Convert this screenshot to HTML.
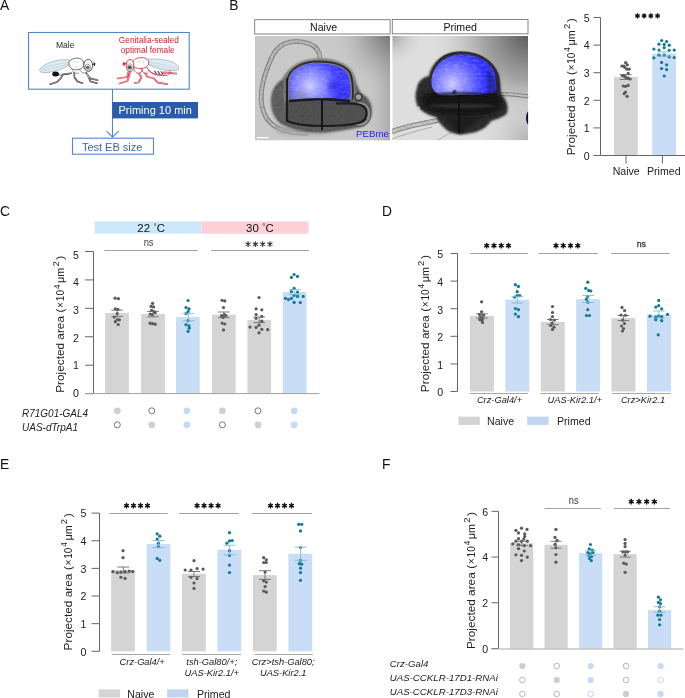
<!DOCTYPE html><html><head><meta charset="utf-8"><style>html,body{margin:0;padding:0;background:#fff;overflow:hidden;}svg{display:block;font-family:'Liberation Sans', sans-serif;will-change:transform;}</style></head><body>
<svg width="685" height="698" viewBox="0 0 685 698">
<rect width="685" height="698" fill="#fff"/>
<text x="-0.1" y="9.6" font-size="13.8" text-anchor="start" fill="#111" >A</text>
<text x="229.2" y="9.8" font-size="13.8" text-anchor="start" fill="#111" >B</text>
<text x="-0.1" y="216.0" font-size="13.8" text-anchor="start" fill="#111" >C</text>
<text x="382.0" y="215.9" font-size="13.8" text-anchor="start" fill="#111" >D</text>
<text x="-0.1" y="468.7" font-size="13.8" text-anchor="start" fill="#111" >E</text>
<text x="382.0" y="468.7" font-size="13.8" text-anchor="start" fill="#111" >F</text>
<rect x="614.0" y="76.9" width="23.8" height="78.6" fill="#d4d4d4"/>
<rect x="652.2" y="53.6" width="23.8" height="101.9" fill="#c9ddf6"/>
<line x1="600.5" y1="17.5" x2="600.5" y2="155.5" stroke="#666" stroke-width="1"/>
<line x1="593.5" y1="155.5" x2="600.5" y2="155.5" stroke="#666" stroke-width="1"/>
<text x="589.6" y="159.8" font-size="10.6" text-anchor="end" fill="#222" >0</text>
<line x1="593.5" y1="127.9" x2="600.5" y2="127.9" stroke="#666" stroke-width="1"/>
<text x="589.6" y="132.20000000000002" font-size="10.6" text-anchor="end" fill="#222" >1</text>
<line x1="593.5" y1="100.3" x2="600.5" y2="100.3" stroke="#666" stroke-width="1"/>
<text x="589.6" y="104.6" font-size="10.6" text-anchor="end" fill="#222" >2</text>
<line x1="593.5" y1="72.69999999999999" x2="600.5" y2="72.69999999999999" stroke="#666" stroke-width="1"/>
<text x="589.6" y="76.99999999999999" font-size="10.6" text-anchor="end" fill="#222" >3</text>
<line x1="593.5" y1="45.099999999999994" x2="600.5" y2="45.099999999999994" stroke="#666" stroke-width="1"/>
<text x="589.6" y="49.39999999999999" font-size="10.6" text-anchor="end" fill="#222" >4</text>
<line x1="593.5" y1="17.5" x2="600.5" y2="17.5" stroke="#666" stroke-width="1"/>
<text x="589.6" y="21.8" font-size="10.6" text-anchor="end" fill="#222" >5</text>
<line x1="600.5" y1="155.5" x2="685" y2="155.5" stroke="#666" stroke-width="1"/>
<line x1="626" y1="155.5" x2="626" y2="163.5" stroke="#666" stroke-width="1"/>
<line x1="662.4" y1="155.5" x2="662.4" y2="163.5" stroke="#666" stroke-width="1"/>
<text x="626.2" y="174.5" font-size="10.6" text-anchor="middle" fill="#222" >Naive</text>
<text x="663.8" y="174.5" font-size="10.6" text-anchor="middle" fill="#222" >Primed</text>
<path d="M637.45,13.30L637.45,18.50M635.20,14.60L639.70,17.20M635.20,17.20L639.70,14.60" stroke="#111" stroke-width="1.3" fill="none"/>
<circle cx="637.45" cy="15.9" r="1.3" fill="#111" stroke="none" stroke-width="0"/>
<path d="M644.15,13.30L644.15,18.50M641.90,14.60L646.40,17.20M641.90,17.20L646.40,14.60" stroke="#111" stroke-width="1.3" fill="none"/>
<circle cx="644.1500000000001" cy="15.9" r="1.3" fill="#111" stroke="none" stroke-width="0"/>
<path d="M650.85,13.30L650.85,18.50M648.60,14.60L653.10,17.20M648.60,17.20L653.10,14.60" stroke="#111" stroke-width="1.3" fill="none"/>
<circle cx="650.85" cy="15.9" r="1.3" fill="#111" stroke="none" stroke-width="0"/>
<path d="M657.55,13.30L657.55,18.50M655.30,14.60L659.80,17.20M655.30,17.20L659.80,14.60" stroke="#111" stroke-width="1.3" fill="none"/>
<circle cx="657.5500000000001" cy="15.9" r="1.3" fill="#111" stroke="none" stroke-width="0"/>
<text transform="translate(574.5,86.8) rotate(-90)" x="0" y="0" font-size="11.8" text-anchor="middle" fill="#222">Projected area <tspan dx="0.3">(</tspan><tspan dx="0.6" font-size="10.1">×</tspan><tspan dx="0.8" font-size="10.1">10</tspan><tspan font-size="8.2" dy="-4.7" dx="0.9">4</tspan><tspan dy="4.7" dx="1.6" font-size="10.8">μm</tspan><tspan font-size="9.4" dy="-4.9" dx="1.2">2</tspan><tspan dy="4.9" dx="1.6">)</tspan></text>
<circle cx="625.7" cy="62.7" r="1.62" fill="#5a5a5a" stroke="none" stroke-width="0"/>
<circle cx="627.3" cy="64.8" r="1.62" fill="#5a5a5a" stroke="none" stroke-width="0"/>
<circle cx="621.9" cy="66" r="1.62" fill="#5a5a5a" stroke="none" stroke-width="0"/>
<circle cx="623.9" cy="66.1" r="1.62" fill="#5a5a5a" stroke="none" stroke-width="0"/>
<circle cx="624.8" cy="67.3" r="1.62" fill="#5a5a5a" stroke="none" stroke-width="0"/>
<circle cx="626.9" cy="69.2" r="1.62" fill="#5a5a5a" stroke="none" stroke-width="0"/>
<circle cx="629.3" cy="69.1" r="1.62" fill="#5a5a5a" stroke="none" stroke-width="0"/>
<circle cx="628.2" cy="73.4" r="1.62" fill="#5a5a5a" stroke="none" stroke-width="0"/>
<circle cx="622.3" cy="75.6" r="1.62" fill="#5a5a5a" stroke="none" stroke-width="0"/>
<circle cx="623.9" cy="75.6" r="1.62" fill="#5a5a5a" stroke="none" stroke-width="0"/>
<circle cx="624.8" cy="76.6" r="1.62" fill="#5a5a5a" stroke="none" stroke-width="0"/>
<circle cx="626.1" cy="77.6" r="1.62" fill="#5a5a5a" stroke="none" stroke-width="0"/>
<circle cx="628.1" cy="78.2" r="1.62" fill="#5a5a5a" stroke="none" stroke-width="0"/>
<circle cx="630" cy="79" r="1.62" fill="#5a5a5a" stroke="none" stroke-width="0"/>
<circle cx="623.2" cy="86" r="1.62" fill="#5a5a5a" stroke="none" stroke-width="0"/>
<circle cx="625.5" cy="86.3" r="1.62" fill="#5a5a5a" stroke="none" stroke-width="0"/>
<circle cx="628.1" cy="85.4" r="1.62" fill="#5a5a5a" stroke="none" stroke-width="0"/>
<circle cx="625.5" cy="92.1" r="1.62" fill="#5a5a5a" stroke="none" stroke-width="0"/>
<circle cx="624.2" cy="93.7" r="1.62" fill="#5a5a5a" stroke="none" stroke-width="0"/>
<circle cx="627.1" cy="96.3" r="1.62" fill="#5a5a5a" stroke="none" stroke-width="0"/>
<line x1="619.6" y1="74.7" x2="631.6" y2="74.7" stroke="#666" stroke-width="0.85"/>
<line x1="619.6" y1="79.4" x2="631.6" y2="79.4" stroke="#666" stroke-width="0.85"/>
<line x1="625.6" y1="74.7" x2="625.6" y2="79.4" stroke="#666" stroke-width="0.85"/>
<circle cx="661.7" cy="40.5" r="1.62" fill="#107a99" stroke="none" stroke-width="0"/>
<circle cx="666.6" cy="41.5" r="1.62" fill="#107a99" stroke="none" stroke-width="0"/>
<circle cx="659" cy="44.2" r="1.62" fill="#107a99" stroke="none" stroke-width="0"/>
<circle cx="664.2" cy="44.4" r="1.62" fill="#107a99" stroke="none" stroke-width="0"/>
<circle cx="669.2" cy="45.2" r="1.62" fill="#107a99" stroke="none" stroke-width="0"/>
<circle cx="664.2" cy="47.7" r="1.62" fill="#107a99" stroke="none" stroke-width="0"/>
<circle cx="653.9" cy="49.1" r="1.62" fill="#107a99" stroke="none" stroke-width="0"/>
<circle cx="659" cy="50.1" r="1.62" fill="#107a99" stroke="none" stroke-width="0"/>
<circle cx="669.2" cy="50.3" r="1.62" fill="#107a99" stroke="none" stroke-width="0"/>
<circle cx="674.2" cy="50.1" r="1.62" fill="#107a99" stroke="none" stroke-width="0"/>
<circle cx="659" cy="55.2" r="1.62" fill="#107a99" stroke="none" stroke-width="0"/>
<circle cx="664.2" cy="55.2" r="1.62" fill="#107a99" stroke="none" stroke-width="0"/>
<circle cx="669.2" cy="56.9" r="1.62" fill="#107a99" stroke="none" stroke-width="0"/>
<circle cx="653.9" cy="57.8" r="1.62" fill="#107a99" stroke="none" stroke-width="0"/>
<circle cx="674.2" cy="57.6" r="1.62" fill="#107a99" stroke="none" stroke-width="0"/>
<circle cx="661.6" cy="62.4" r="1.62" fill="#107a99" stroke="none" stroke-width="0"/>
<circle cx="666.6" cy="64.8" r="1.62" fill="#107a99" stroke="none" stroke-width="0"/>
<circle cx="661.6" cy="68.5" r="1.62" fill="#107a99" stroke="none" stroke-width="0"/>
<circle cx="666.6" cy="69.6" r="1.62" fill="#107a99" stroke="none" stroke-width="0"/>
<circle cx="664.2" cy="76" r="1.62" fill="#107a99" stroke="none" stroke-width="0"/>
<line x1="658.0" y1="51.9" x2="670.0" y2="51.9" stroke="#7cb8cc" stroke-width="0.85"/>
<line x1="658.0" y1="56.3" x2="670.0" y2="56.3" stroke="#7cb8cc" stroke-width="0.85"/>
<line x1="664.0" y1="51.9" x2="664.0" y2="56.3" stroke="#7cb8cc" stroke-width="0.85"/>
<rect x="94.7" y="221.4" width="106.7" height="12.3" fill="#cce8fb"/>
<rect x="201.4" y="221.4" width="107.1" height="12.3" fill="#fdd0d6"/>
<text x="151.2" y="231.9" font-size="11.4" text-anchor="middle" fill="#111" >22 <tspan font-size='8' dy='-3.4' dx='0.4'>°</tspan><tspan dy='3.4'>C</tspan></text>
<text x="259.9" y="231.9" font-size="11.4" text-anchor="middle" fill="#111" >30 <tspan font-size='8' dy='-3.4' dx='0.4'>°</tspan><tspan dy='3.4'>C</tspan></text>
<line x1="104.4" y1="250.5" x2="197.7" y2="250.5" stroke="#a0a0a0" stroke-width="1"/>
<line x1="211.1" y1="250.5" x2="308.9" y2="250.5" stroke="#a0a0a0" stroke-width="1"/>
<text x="0" y="0" font-size="9.4" text-anchor="middle" fill="#444" transform="translate(148.6,245.7) scale(1,1.18)">ns</text>
<path d="M248.05,241.35L248.05,247.05M245.58,242.77L250.52,245.62M245.58,245.62L250.52,242.77" stroke="#333" stroke-width="1.05" fill="none"/>
<circle cx="248.05" cy="244.2" r="1.05" fill="#333" stroke="none" stroke-width="0"/>
<path d="M255.35,241.35L255.35,247.05M252.88,242.77L257.82,245.62M252.88,245.62L257.82,242.77" stroke="#333" stroke-width="1.05" fill="none"/>
<circle cx="255.35000000000002" cy="244.2" r="1.05" fill="#333" stroke="none" stroke-width="0"/>
<path d="M262.65,241.35L262.65,247.05M260.18,242.77L265.12,245.62M260.18,245.62L265.12,242.77" stroke="#333" stroke-width="1.05" fill="none"/>
<circle cx="262.65000000000003" cy="244.2" r="1.05" fill="#333" stroke="none" stroke-width="0"/>
<path d="M269.95,241.35L269.95,247.05M267.48,242.77L272.42,245.62M267.48,245.62L272.42,242.77" stroke="#333" stroke-width="1.05" fill="none"/>
<circle cx="269.95" cy="244.2" r="1.05" fill="#333" stroke="none" stroke-width="0"/>
<rect x="105.2" y="312.9" width="23.7" height="80.70000000000005" fill="#d4d4d4"/>
<rect x="141.2" y="314.0" width="23.7" height="79.60000000000002" fill="#d4d4d4"/>
<rect x="176.0" y="317.1" width="23.7" height="76.5" fill="#c9ddf6"/>
<rect x="212.0" y="314.7" width="23.7" height="78.90000000000003" fill="#d4d4d4"/>
<rect x="247.4" y="319.9" width="23.7" height="73.70000000000005" fill="#d4d4d4"/>
<rect x="282.8" y="292.0" width="23.7" height="101.60000000000002" fill="#c9ddf6"/>
<line x1="93.5" y1="251.5" x2="93.5" y2="393.6" stroke="#666" stroke-width="1"/>
<line x1="85.0" y1="393.6" x2="93.5" y2="393.6" stroke="#666" stroke-width="1"/>
<text x="78.9" y="397.90000000000003" font-size="10.6" text-anchor="end" fill="#222" ></text>
<line x1="85.0" y1="365.18" x2="93.5" y2="365.18" stroke="#666" stroke-width="1"/>
<text x="78.9" y="369.48" font-size="10.6" text-anchor="end" fill="#222" ></text>
<line x1="85.0" y1="336.76" x2="93.5" y2="336.76" stroke="#666" stroke-width="1"/>
<text x="78.9" y="341.06" font-size="10.6" text-anchor="end" fill="#222" ></text>
<line x1="85.0" y1="308.34000000000003" x2="93.5" y2="308.34000000000003" stroke="#666" stroke-width="1"/>
<text x="78.9" y="312.64000000000004" font-size="10.6" text-anchor="end" fill="#222" ></text>
<line x1="85.0" y1="279.92" x2="93.5" y2="279.92" stroke="#666" stroke-width="1"/>
<text x="78.9" y="284.22" font-size="10.6" text-anchor="end" fill="#222" ></text>
<line x1="85.0" y1="251.5" x2="93.5" y2="251.5" stroke="#666" stroke-width="1"/>
<text x="78.9" y="255.8" font-size="10.6" text-anchor="end" fill="#222" ></text>
<text x="78.9" y="397.0" font-size="10.6" text-anchor="end" fill="#222" >0</text>
<text x="78.9" y="369.3" font-size="10.6" text-anchor="end" fill="#222" >1</text>
<text x="78.9" y="341.6" font-size="10.6" text-anchor="end" fill="#222" >2</text>
<text x="78.9" y="313.90000000000003" font-size="10.6" text-anchor="end" fill="#222" >3</text>
<text x="78.9" y="286.2" font-size="10.6" text-anchor="end" fill="#222" >4</text>
<text x="78.9" y="258.5" font-size="10.6" text-anchor="end" fill="#222" >5</text>
<line x1="85.0" y1="393.6" x2="319.3" y2="393.6" stroke="#a0a0a0" stroke-width="1"/>
<text transform="translate(64.2,324.25) rotate(-90)" x="0" y="0" font-size="11.8" text-anchor="middle" fill="#222">Projected area <tspan dx="0.3">(</tspan><tspan dx="0.6" font-size="10.1">×</tspan><tspan dx="0.8" font-size="10.1">10</tspan><tspan font-size="8.2" dy="-4.7" dx="0.9">4</tspan><tspan dy="4.7" dx="1.6" font-size="10.8">μm</tspan><tspan font-size="9.4" dy="-4.9" dx="1.2">2</tspan><tspan dy="4.9" dx="1.6">)</tspan></text>
<circle cx="115.1" cy="298.2" r="1.62" fill="#5a5a5a" stroke="none" stroke-width="0"/>
<circle cx="118.4" cy="298.7" r="1.62" fill="#5a5a5a" stroke="none" stroke-width="0"/>
<circle cx="115.3" cy="308.9" r="1.62" fill="#5a5a5a" stroke="none" stroke-width="0"/>
<circle cx="117.9" cy="309.4" r="1.62" fill="#5a5a5a" stroke="none" stroke-width="0"/>
<circle cx="117.2" cy="313.5" r="1.62" fill="#5a5a5a" stroke="none" stroke-width="0"/>
<circle cx="114.3" cy="317.1" r="1.62" fill="#5a5a5a" stroke="none" stroke-width="0"/>
<circle cx="117.4" cy="319.6" r="1.62" fill="#5a5a5a" stroke="none" stroke-width="0"/>
<circle cx="119.4" cy="319.8" r="1.62" fill="#5a5a5a" stroke="none" stroke-width="0"/>
<circle cx="115.3" cy="321.7" r="1.62" fill="#5a5a5a" stroke="none" stroke-width="0"/>
<circle cx="118.2" cy="324.5" r="1.62" fill="#5a5a5a" stroke="none" stroke-width="0"/>
<circle cx="152.6" cy="303.3" r="1.62" fill="#5a5a5a" stroke="none" stroke-width="0"/>
<circle cx="151.1" cy="306.3" r="1.62" fill="#5a5a5a" stroke="none" stroke-width="0"/>
<circle cx="153.6" cy="306.9" r="1.62" fill="#5a5a5a" stroke="none" stroke-width="0"/>
<circle cx="151.6" cy="310.4" r="1.62" fill="#5a5a5a" stroke="none" stroke-width="0"/>
<circle cx="154.2" cy="311.5" r="1.62" fill="#5a5a5a" stroke="none" stroke-width="0"/>
<circle cx="155.2" cy="312.7" r="1.62" fill="#5a5a5a" stroke="none" stroke-width="0"/>
<circle cx="150.1" cy="314" r="1.62" fill="#5a5a5a" stroke="none" stroke-width="0"/>
<circle cx="152.1" cy="314.5" r="1.62" fill="#5a5a5a" stroke="none" stroke-width="0"/>
<circle cx="150.1" cy="323.2" r="1.62" fill="#5a5a5a" stroke="none" stroke-width="0"/>
<circle cx="152.6" cy="323.7" r="1.62" fill="#5a5a5a" stroke="none" stroke-width="0"/>
<circle cx="155.2" cy="324.2" r="1.62" fill="#5a5a5a" stroke="none" stroke-width="0"/>
<circle cx="188.1" cy="300.5" r="1.62" fill="#107a99" stroke="none" stroke-width="0"/>
<circle cx="186" cy="307.5" r="1.62" fill="#107a99" stroke="none" stroke-width="0"/>
<circle cx="189" cy="308.9" r="1.62" fill="#107a99" stroke="none" stroke-width="0"/>
<circle cx="188.1" cy="311.5" r="1.62" fill="#107a99" stroke="none" stroke-width="0"/>
<circle cx="186" cy="313.6" r="1.62" fill="#107a99" stroke="none" stroke-width="0"/>
<circle cx="188.1" cy="320.6" r="1.62" fill="#107a99" stroke="none" stroke-width="0"/>
<circle cx="186" cy="324.7" r="1.62" fill="#107a99" stroke="none" stroke-width="0"/>
<circle cx="189" cy="325.9" r="1.62" fill="#107a99" stroke="none" stroke-width="0"/>
<circle cx="189.2" cy="328.2" r="1.62" fill="#107a99" stroke="none" stroke-width="0"/>
<circle cx="188.1" cy="331.3" r="1.62" fill="#107a99" stroke="none" stroke-width="0"/>
<circle cx="222.1" cy="300.3" r="1.62" fill="#5a5a5a" stroke="none" stroke-width="0"/>
<circle cx="224.8" cy="300.9" r="1.62" fill="#5a5a5a" stroke="none" stroke-width="0"/>
<circle cx="223.5" cy="307.5" r="1.62" fill="#5a5a5a" stroke="none" stroke-width="0"/>
<circle cx="221.6" cy="315.7" r="1.62" fill="#5a5a5a" stroke="none" stroke-width="0"/>
<circle cx="224.4" cy="314.7" r="1.62" fill="#5a5a5a" stroke="none" stroke-width="0"/>
<circle cx="225.9" cy="315.5" r="1.62" fill="#5a5a5a" stroke="none" stroke-width="0"/>
<circle cx="223.1" cy="317.4" r="1.62" fill="#5a5a5a" stroke="none" stroke-width="0"/>
<circle cx="222.1" cy="323.1" r="1.62" fill="#5a5a5a" stroke="none" stroke-width="0"/>
<circle cx="224.8" cy="324" r="1.62" fill="#5a5a5a" stroke="none" stroke-width="0"/>
<circle cx="223.5" cy="329.9" r="1.62" fill="#5a5a5a" stroke="none" stroke-width="0"/>
<circle cx="259" cy="297.5" r="1.62" fill="#5a5a5a" stroke="none" stroke-width="0"/>
<circle cx="256.1" cy="308.8" r="1.62" fill="#5a5a5a" stroke="none" stroke-width="0"/>
<circle cx="261.8" cy="309.8" r="1.62" fill="#5a5a5a" stroke="none" stroke-width="0"/>
<circle cx="256.1" cy="314.5" r="1.62" fill="#5a5a5a" stroke="none" stroke-width="0"/>
<circle cx="261.8" cy="316.4" r="1.62" fill="#5a5a5a" stroke="none" stroke-width="0"/>
<circle cx="256.1" cy="318.3" r="1.62" fill="#5a5a5a" stroke="none" stroke-width="0"/>
<circle cx="261.8" cy="321.2" r="1.62" fill="#5a5a5a" stroke="none" stroke-width="0"/>
<circle cx="259" cy="325.2" r="1.62" fill="#5a5a5a" stroke="none" stroke-width="0"/>
<circle cx="250" cy="327.1" r="1.62" fill="#5a5a5a" stroke="none" stroke-width="0"/>
<circle cx="256.1" cy="327.4" r="1.62" fill="#5a5a5a" stroke="none" stroke-width="0"/>
<circle cx="261.8" cy="329.3" r="1.62" fill="#5a5a5a" stroke="none" stroke-width="0"/>
<circle cx="267.7" cy="329.7" r="1.62" fill="#5a5a5a" stroke="none" stroke-width="0"/>
<circle cx="259" cy="332.8" r="1.62" fill="#5a5a5a" stroke="none" stroke-width="0"/>
<circle cx="291.4" cy="277.4" r="1.62" fill="#107a99" stroke="none" stroke-width="0"/>
<circle cx="294.1" cy="274.5" r="1.62" fill="#107a99" stroke="none" stroke-width="0"/>
<circle cx="297.5" cy="276.4" r="1.62" fill="#107a99" stroke="none" stroke-width="0"/>
<circle cx="294.1" cy="288.4" r="1.62" fill="#107a99" stroke="none" stroke-width="0"/>
<circle cx="291.4" cy="291.6" r="1.62" fill="#107a99" stroke="none" stroke-width="0"/>
<circle cx="297.5" cy="292" r="1.62" fill="#107a99" stroke="none" stroke-width="0"/>
<circle cx="294.1" cy="295.4" r="1.62" fill="#107a99" stroke="none" stroke-width="0"/>
<circle cx="297.5" cy="296.4" r="1.62" fill="#107a99" stroke="none" stroke-width="0"/>
<circle cx="285.5" cy="298.3" r="1.62" fill="#107a99" stroke="none" stroke-width="0"/>
<circle cx="288.4" cy="299.6" r="1.62" fill="#107a99" stroke="none" stroke-width="0"/>
<circle cx="291.4" cy="298.3" r="1.62" fill="#107a99" stroke="none" stroke-width="0"/>
<circle cx="303.2" cy="296.4" r="1.62" fill="#107a99" stroke="none" stroke-width="0"/>
<circle cx="294.1" cy="302.4" r="1.62" fill="#107a99" stroke="none" stroke-width="0"/>
<circle cx="300.3" cy="302.6" r="1.62" fill="#107a99" stroke="none" stroke-width="0"/>
<line x1="111.3" y1="310.1" x2="122.89999999999999" y2="310.1" stroke="#666" stroke-width="0.85"/>
<line x1="111.3" y1="316.4" x2="122.89999999999999" y2="316.4" stroke="#666" stroke-width="0.85"/>
<line x1="117.1" y1="310.1" x2="117.1" y2="316.4" stroke="#666" stroke-width="0.85"/>
<line x1="147.2" y1="311.5" x2="158.8" y2="311.5" stroke="#666" stroke-width="0.85"/>
<line x1="147.2" y1="316.8" x2="158.8" y2="316.8" stroke="#666" stroke-width="0.85"/>
<line x1="153.0" y1="311.5" x2="153.0" y2="316.8" stroke="#666" stroke-width="0.85"/>
<line x1="182.6" y1="313.6" x2="194.20000000000002" y2="313.6" stroke="#7cb8cc" stroke-width="0.85"/>
<line x1="182.6" y1="320.8" x2="194.20000000000002" y2="320.8" stroke="#7cb8cc" stroke-width="0.85"/>
<line x1="188.4" y1="313.6" x2="188.4" y2="320.8" stroke="#7cb8cc" stroke-width="0.85"/>
<line x1="218.0" y1="312.0" x2="229.60000000000002" y2="312.0" stroke="#666" stroke-width="0.85"/>
<line x1="218.0" y1="317.6" x2="229.60000000000002" y2="317.6" stroke="#666" stroke-width="0.85"/>
<line x1="223.8" y1="312.0" x2="223.8" y2="317.6" stroke="#666" stroke-width="0.85"/>
<line x1="253.39999999999998" y1="317.0" x2="265.0" y2="317.0" stroke="#666" stroke-width="0.85"/>
<line x1="253.39999999999998" y1="322.6" x2="265.0" y2="322.6" stroke="#666" stroke-width="0.85"/>
<line x1="259.2" y1="317.0" x2="259.2" y2="322.6" stroke="#666" stroke-width="0.85"/>
<line x1="288.8" y1="289.5" x2="300.40000000000003" y2="289.5" stroke="#7cb8cc" stroke-width="0.85"/>
<line x1="288.8" y1="294.5" x2="300.40000000000003" y2="294.5" stroke="#7cb8cc" stroke-width="0.85"/>
<line x1="294.6" y1="289.5" x2="294.6" y2="294.5" stroke="#7cb8cc" stroke-width="0.85"/>
<text x="22.0" y="416.6" font-size="10" text-anchor="start" fill="#222" font-style="italic" >R71G01-GAL4</text>
<text x="22.0" y="430.6" font-size="10" text-anchor="start" fill="#222" font-style="italic" >UAS-dTrpA1</text>
<circle cx="117.3" cy="410.8" r="3.4" fill="#d0d0d0" stroke="none" stroke-width="0"/>
<circle cx="151.8" cy="410.8" r="3.0" fill="#fff" stroke="#555" stroke-width="0.8"/>
<circle cx="186.9" cy="410.8" r="3.4" fill="#c4dbf6" stroke="none" stroke-width="0"/>
<circle cx="222.4" cy="410.8" r="3.4" fill="#d0d0d0" stroke="none" stroke-width="0"/>
<circle cx="258.0" cy="410.8" r="3.0" fill="#fff" stroke="#555" stroke-width="0.8"/>
<circle cx="294.2" cy="410.8" r="3.4" fill="#c4dbf6" stroke="none" stroke-width="0"/>
<circle cx="117.3" cy="424.8" r="3.0" fill="#fff" stroke="#555" stroke-width="0.8"/>
<circle cx="151.8" cy="424.8" r="3.4" fill="#d0d0d0" stroke="none" stroke-width="0"/>
<circle cx="186.9" cy="424.8" r="3.4" fill="#c4dbf6" stroke="none" stroke-width="0"/>
<circle cx="222.4" cy="424.8" r="3.0" fill="#fff" stroke="#555" stroke-width="0.8"/>
<circle cx="258.0" cy="424.8" r="3.4" fill="#d0d0d0" stroke="none" stroke-width="0"/>
<circle cx="294.2" cy="424.8" r="3.4" fill="#c4dbf6" stroke="none" stroke-width="0"/>
<rect x="469.9" y="315.8" width="24.0" height="75.69999999999999" fill="#d4d4d4"/>
<rect x="505.3" y="299.7" width="24.0" height="91.80000000000001" fill="#c9ddf6"/>
<rect x="540.8" y="322.0" width="24.0" height="69.5" fill="#d4d4d4"/>
<rect x="576.1" y="299.2" width="24.0" height="92.30000000000001" fill="#c9ddf6"/>
<rect x="611.4" y="318.1" width="24.0" height="73.39999999999998" fill="#d4d4d4"/>
<rect x="647.0" y="314.6" width="24.0" height="76.89999999999998" fill="#c9ddf6"/>
<line x1="457.5" y1="253.5" x2="457.5" y2="391.5" stroke="#666" stroke-width="1"/>
<line x1="450.5" y1="391.5" x2="457.5" y2="391.5" stroke="#666" stroke-width="1"/>
<text x="443.2" y="396.4" font-size="10.6" text-anchor="end" fill="#222" >0</text>
<line x1="450.5" y1="363.9" x2="457.5" y2="363.9" stroke="#666" stroke-width="1"/>
<text x="443.2" y="368.79999999999995" font-size="10.6" text-anchor="end" fill="#222" >1</text>
<line x1="450.5" y1="336.3" x2="457.5" y2="336.3" stroke="#666" stroke-width="1"/>
<text x="443.2" y="341.2" font-size="10.6" text-anchor="end" fill="#222" >2</text>
<line x1="450.5" y1="308.7" x2="457.5" y2="308.7" stroke="#666" stroke-width="1"/>
<text x="443.2" y="313.59999999999997" font-size="10.6" text-anchor="end" fill="#222" >3</text>
<line x1="450.5" y1="281.1" x2="457.5" y2="281.1" stroke="#666" stroke-width="1"/>
<text x="443.2" y="286.0" font-size="10.6" text-anchor="end" fill="#222" >4</text>
<line x1="450.5" y1="253.5" x2="457.5" y2="253.5" stroke="#666" stroke-width="1"/>
<text x="443.2" y="258.4" font-size="10.6" text-anchor="end" fill="#222" >5</text>
<line x1="469.9" y1="393.5" x2="528.0" y2="393.5" stroke="#a8a8a8" stroke-width="1"/>
<line x1="540.2" y1="393.5" x2="598.6" y2="393.5" stroke="#a8a8a8" stroke-width="1"/>
<line x1="612.0" y1="393.5" x2="670.6" y2="393.5" stroke="#a8a8a8" stroke-width="1"/>
<line x1="469.9" y1="253.5" x2="528.0" y2="253.5" stroke="#a0a0a0" stroke-width="1"/>
<line x1="538.6" y1="253.5" x2="597.9" y2="253.5" stroke="#a0a0a0" stroke-width="1"/>
<line x1="611.1" y1="253.5" x2="669.6" y2="253.5" stroke="#a0a0a0" stroke-width="1"/>
<path d="M486.73,242.85L486.73,248.55M484.26,244.27L489.19,247.12M484.26,247.12L489.19,244.27" stroke="#111" stroke-width="1.35" fill="none"/>
<circle cx="486.725" cy="245.7" r="1.35" fill="#111" stroke="none" stroke-width="0"/>
<path d="M493.98,242.85L493.98,248.55M491.51,244.27L496.44,247.12M491.51,247.12L496.44,244.27" stroke="#111" stroke-width="1.35" fill="none"/>
<circle cx="493.975" cy="245.7" r="1.35" fill="#111" stroke="none" stroke-width="0"/>
<path d="M501.23,242.85L501.23,248.55M498.76,244.27L503.69,247.12M498.76,247.12L503.69,244.27" stroke="#111" stroke-width="1.35" fill="none"/>
<circle cx="501.225" cy="245.7" r="1.35" fill="#111" stroke="none" stroke-width="0"/>
<path d="M508.48,242.85L508.48,248.55M506.01,244.27L510.94,247.12M506.01,247.12L510.94,244.27" stroke="#111" stroke-width="1.35" fill="none"/>
<circle cx="508.475" cy="245.7" r="1.35" fill="#111" stroke="none" stroke-width="0"/>
<path d="M556.02,242.85L556.02,248.55M553.56,244.27L558.49,247.12M553.56,247.12L558.49,244.27" stroke="#111" stroke-width="1.35" fill="none"/>
<circle cx="556.025" cy="245.7" r="1.35" fill="#111" stroke="none" stroke-width="0"/>
<path d="M563.27,242.85L563.27,248.55M560.81,244.27L565.74,247.12M560.81,247.12L565.74,244.27" stroke="#111" stroke-width="1.35" fill="none"/>
<circle cx="563.275" cy="245.7" r="1.35" fill="#111" stroke="none" stroke-width="0"/>
<path d="M570.52,242.85L570.52,248.55M568.06,244.27L572.99,247.12M568.06,247.12L572.99,244.27" stroke="#111" stroke-width="1.35" fill="none"/>
<circle cx="570.525" cy="245.7" r="1.35" fill="#111" stroke="none" stroke-width="0"/>
<path d="M577.77,242.85L577.77,248.55M575.31,244.27L580.24,247.12M575.31,247.12L580.24,244.27" stroke="#111" stroke-width="1.35" fill="none"/>
<circle cx="577.775" cy="245.7" r="1.35" fill="#111" stroke="none" stroke-width="0"/>
<text x="0" y="0" font-size="8.8" text-anchor="middle" fill="#333" transform="translate(641.3,247.4) scale(1,1.08)" stroke="#333" stroke-width="0.25">ns</text>
<text transform="translate(428.6,323.65) rotate(-90)" x="0" y="0" font-size="11.8" text-anchor="middle" fill="#222">Projected area <tspan dx="0.3">(</tspan><tspan dx="0.6" font-size="10.1">×</tspan><tspan dx="0.8" font-size="10.1">10</tspan><tspan font-size="8.2" dy="-4.7" dx="0.9">4</tspan><tspan dy="4.7" dx="1.6" font-size="10.8">μm</tspan><tspan font-size="9.4" dy="-4.9" dx="1.2">2</tspan><tspan dy="4.9" dx="1.6">)</tspan></text>
<text x="499.5" y="403.3" font-size="9.3" text-anchor="middle" fill="#222" font-style="italic" >Crz-Gal4/+</text>
<text x="574.8" y="403.0" font-size="9.3" text-anchor="middle" fill="#222" font-style="italic" >UAS-Kir2.1/+</text>
<text x="643.0" y="403.3" font-size="9.3" text-anchor="middle" fill="#222" font-style="italic" >Crz&gt;Kir2.1</text>
<rect x="458.4" y="416.6" width="21.4" height="8.3" fill="#d4d4d4"/>
<text x="487.0" y="424.9" font-size="10.6" text-anchor="start" fill="#222" >Naive</text>
<rect x="527.2" y="416.6" width="21.4" height="8.3" fill="#c0d5f0"/>
<text x="557.0" y="424.9" font-size="10.6" text-anchor="start" fill="#222" >Primed</text>
<circle cx="481.6" cy="301.8" r="1.62" fill="#5a5a5a" stroke="none" stroke-width="0"/>
<circle cx="481.6" cy="311.8" r="1.62" fill="#5a5a5a" stroke="none" stroke-width="0"/>
<circle cx="479.5" cy="314.5" r="1.62" fill="#5a5a5a" stroke="none" stroke-width="0"/>
<circle cx="483.5" cy="315.2" r="1.62" fill="#5a5a5a" stroke="none" stroke-width="0"/>
<circle cx="480.5" cy="317" r="1.62" fill="#5a5a5a" stroke="none" stroke-width="0"/>
<circle cx="482.8" cy="318.5" r="1.62" fill="#5a5a5a" stroke="none" stroke-width="0"/>
<circle cx="479.8" cy="319.6" r="1.62" fill="#5a5a5a" stroke="none" stroke-width="0"/>
<circle cx="482" cy="320.6" r="1.62" fill="#5a5a5a" stroke="none" stroke-width="0"/>
<circle cx="482.5" cy="322.5" r="1.62" fill="#5a5a5a" stroke="none" stroke-width="0"/>
<circle cx="515.4" cy="284.7" r="1.62" fill="#107a99" stroke="none" stroke-width="0"/>
<circle cx="518.4" cy="286.4" r="1.62" fill="#107a99" stroke="none" stroke-width="0"/>
<circle cx="517.2" cy="291.7" r="1.62" fill="#107a99" stroke="none" stroke-width="0"/>
<circle cx="514.6" cy="297.1" r="1.62" fill="#107a99" stroke="none" stroke-width="0"/>
<circle cx="517.2" cy="295.7" r="1.62" fill="#107a99" stroke="none" stroke-width="0"/>
<circle cx="519.8" cy="295.7" r="1.62" fill="#107a99" stroke="none" stroke-width="0"/>
<circle cx="515.4" cy="308.5" r="1.62" fill="#107a99" stroke="none" stroke-width="0"/>
<circle cx="518.4" cy="309.7" r="1.62" fill="#107a99" stroke="none" stroke-width="0"/>
<circle cx="515.4" cy="314.1" r="1.62" fill="#107a99" stroke="none" stroke-width="0"/>
<circle cx="518.4" cy="316.7" r="1.62" fill="#107a99" stroke="none" stroke-width="0"/>
<circle cx="552.5" cy="306.5" r="1.62" fill="#5a5a5a" stroke="none" stroke-width="0"/>
<circle cx="552.5" cy="312.5" r="1.62" fill="#5a5a5a" stroke="none" stroke-width="0"/>
<circle cx="552.5" cy="316.5" r="1.62" fill="#5a5a5a" stroke="none" stroke-width="0"/>
<circle cx="550.5" cy="319.5" r="1.62" fill="#5a5a5a" stroke="none" stroke-width="0"/>
<circle cx="554.5" cy="320" r="1.62" fill="#5a5a5a" stroke="none" stroke-width="0"/>
<circle cx="552" cy="323" r="1.62" fill="#5a5a5a" stroke="none" stroke-width="0"/>
<circle cx="550.8" cy="325.5" r="1.62" fill="#5a5a5a" stroke="none" stroke-width="0"/>
<circle cx="554" cy="327.2" r="1.62" fill="#5a5a5a" stroke="none" stroke-width="0"/>
<circle cx="552.5" cy="329.5" r="1.62" fill="#5a5a5a" stroke="none" stroke-width="0"/>
<circle cx="587.8" cy="282.2" r="1.62" fill="#107a99" stroke="none" stroke-width="0"/>
<circle cx="585.7" cy="288.3" r="1.62" fill="#107a99" stroke="none" stroke-width="0"/>
<circle cx="588.7" cy="290.4" r="1.62" fill="#107a99" stroke="none" stroke-width="0"/>
<circle cx="590.8" cy="291" r="1.62" fill="#107a99" stroke="none" stroke-width="0"/>
<circle cx="587.8" cy="296.6" r="1.62" fill="#107a99" stroke="none" stroke-width="0"/>
<circle cx="586.4" cy="299.2" r="1.62" fill="#107a99" stroke="none" stroke-width="0"/>
<circle cx="587.8" cy="302.2" r="1.62" fill="#107a99" stroke="none" stroke-width="0"/>
<circle cx="587.8" cy="309.7" r="1.62" fill="#107a99" stroke="none" stroke-width="0"/>
<circle cx="586.4" cy="315.5" r="1.62" fill="#107a99" stroke="none" stroke-width="0"/>
<circle cx="589.5" cy="315.5" r="1.62" fill="#107a99" stroke="none" stroke-width="0"/>
<circle cx="622" cy="307.4" r="1.62" fill="#5a5a5a" stroke="none" stroke-width="0"/>
<circle cx="624.6" cy="310.6" r="1.62" fill="#5a5a5a" stroke="none" stroke-width="0"/>
<circle cx="621" cy="315" r="1.62" fill="#5a5a5a" stroke="none" stroke-width="0"/>
<circle cx="625.4" cy="315.3" r="1.62" fill="#5a5a5a" stroke="none" stroke-width="0"/>
<circle cx="622.8" cy="320.2" r="1.62" fill="#5a5a5a" stroke="none" stroke-width="0"/>
<circle cx="624.5" cy="323.5" r="1.62" fill="#5a5a5a" stroke="none" stroke-width="0"/>
<circle cx="621.5" cy="326" r="1.62" fill="#5a5a5a" stroke="none" stroke-width="0"/>
<circle cx="623.5" cy="328.5" r="1.62" fill="#5a5a5a" stroke="none" stroke-width="0"/>
<circle cx="622.5" cy="331" r="1.62" fill="#5a5a5a" stroke="none" stroke-width="0"/>
<circle cx="658.7" cy="300.4" r="1.62" fill="#107a99" stroke="none" stroke-width="0"/>
<circle cx="655.8" cy="307.1" r="1.62" fill="#107a99" stroke="none" stroke-width="0"/>
<circle cx="658.7" cy="305.7" r="1.62" fill="#107a99" stroke="none" stroke-width="0"/>
<circle cx="661.7" cy="308.8" r="1.62" fill="#107a99" stroke="none" stroke-width="0"/>
<circle cx="650" cy="316.2" r="1.62" fill="#107a99" stroke="none" stroke-width="0"/>
<circle cx="655.8" cy="317.2" r="1.62" fill="#107a99" stroke="none" stroke-width="0"/>
<circle cx="658.7" cy="315.8" r="1.62" fill="#107a99" stroke="none" stroke-width="0"/>
<circle cx="661.7" cy="316.7" r="1.62" fill="#107a99" stroke="none" stroke-width="0"/>
<circle cx="667.5" cy="314.4" r="1.62" fill="#107a99" stroke="none" stroke-width="0"/>
<circle cx="655.8" cy="319.7" r="1.62" fill="#107a99" stroke="none" stroke-width="0"/>
<circle cx="661.7" cy="320.7" r="1.62" fill="#107a99" stroke="none" stroke-width="0"/>
<circle cx="658.2" cy="334.8" r="1.62" fill="#107a99" stroke="none" stroke-width="0"/>
<line x1="476.09999999999997" y1="313.8" x2="487.7" y2="313.8" stroke="#666" stroke-width="0.85"/>
<line x1="476.09999999999997" y1="318.0" x2="487.7" y2="318.0" stroke="#666" stroke-width="0.85"/>
<line x1="481.9" y1="313.8" x2="481.9" y2="318.0" stroke="#666" stroke-width="0.85"/>
<line x1="511.49999999999994" y1="296.5" x2="523.0999999999999" y2="296.5" stroke="#7cb8cc" stroke-width="0.85"/>
<line x1="511.49999999999994" y1="303.0" x2="523.0999999999999" y2="303.0" stroke="#7cb8cc" stroke-width="0.85"/>
<line x1="517.3" y1="296.5" x2="517.3" y2="303.0" stroke="#7cb8cc" stroke-width="0.85"/>
<line x1="547.0" y1="319.5" x2="558.5999999999999" y2="319.5" stroke="#666" stroke-width="0.85"/>
<line x1="547.0" y1="324.6" x2="558.5999999999999" y2="324.6" stroke="#666" stroke-width="0.85"/>
<line x1="552.8" y1="319.5" x2="552.8" y2="324.6" stroke="#666" stroke-width="0.85"/>
<line x1="582.3000000000001" y1="295.5" x2="593.9" y2="295.5" stroke="#7cb8cc" stroke-width="0.85"/>
<line x1="582.3000000000001" y1="302.5" x2="593.9" y2="302.5" stroke="#7cb8cc" stroke-width="0.85"/>
<line x1="588.1" y1="295.5" x2="588.1" y2="302.5" stroke="#7cb8cc" stroke-width="0.85"/>
<line x1="617.6" y1="315.5" x2="629.1999999999999" y2="315.5" stroke="#666" stroke-width="0.85"/>
<line x1="617.6" y1="320.6" x2="629.1999999999999" y2="320.6" stroke="#666" stroke-width="0.85"/>
<line x1="623.4" y1="315.5" x2="623.4" y2="320.6" stroke="#666" stroke-width="0.85"/>
<line x1="653.2" y1="311.0" x2="664.8" y2="311.0" stroke="#7cb8cc" stroke-width="0.85"/>
<line x1="653.2" y1="318.2" x2="664.8" y2="318.2" stroke="#7cb8cc" stroke-width="0.85"/>
<line x1="659.0" y1="311.0" x2="659.0" y2="318.2" stroke="#7cb8cc" stroke-width="0.85"/>
<rect x="111.1" y="570.0" width="23.8" height="81.29999999999995" fill="#d4d4d4"/>
<rect x="146.6" y="544.1" width="23.8" height="107.19999999999993" fill="#c9ddf6"/>
<rect x="182.0" y="573.8" width="23.8" height="77.5" fill="#d4d4d4"/>
<rect x="217.4" y="549.8" width="23.8" height="101.5" fill="#c9ddf6"/>
<rect x="252.9" y="575.1" width="23.8" height="76.19999999999993" fill="#d4d4d4"/>
<rect x="288.4" y="553.7" width="23.8" height="97.59999999999991" fill="#c9ddf6"/>
<line x1="99.5" y1="513.0999999999999" x2="99.5" y2="651.3" stroke="#666" stroke-width="1"/>
<line x1="91.5" y1="651.3" x2="99.5" y2="651.3" stroke="#666" stroke-width="1"/>
<text x="86.4" y="655.5999999999999" font-size="10.6" text-anchor="end" fill="#222" >0</text>
<line x1="91.5" y1="623.66" x2="99.5" y2="623.66" stroke="#666" stroke-width="1"/>
<text x="86.4" y="627.9599999999999" font-size="10.6" text-anchor="end" fill="#222" >1</text>
<line x1="91.5" y1="596.02" x2="99.5" y2="596.02" stroke="#666" stroke-width="1"/>
<text x="86.4" y="600.3199999999999" font-size="10.6" text-anchor="end" fill="#222" >2</text>
<line x1="91.5" y1="568.38" x2="99.5" y2="568.38" stroke="#666" stroke-width="1"/>
<text x="86.4" y="572.68" font-size="10.6" text-anchor="end" fill="#222" >3</text>
<line x1="91.5" y1="540.74" x2="99.5" y2="540.74" stroke="#666" stroke-width="1"/>
<text x="86.4" y="545.04" font-size="10.6" text-anchor="end" fill="#222" >4</text>
<line x1="91.5" y1="513.0999999999999" x2="99.5" y2="513.0999999999999" stroke="#666" stroke-width="1"/>
<text x="86.4" y="517.3999999999999" font-size="10.6" text-anchor="end" fill="#222" >5</text>
<text transform="translate(72.1,581.9) rotate(-90)" x="0" y="0" font-size="11.8" text-anchor="middle" fill="#222">Projected area <tspan dx="0.3">(</tspan><tspan dx="0.6" font-size="10.1">×</tspan><tspan dx="0.8" font-size="10.1">10</tspan><tspan font-size="8.2" dy="-4.7" dx="0.9">4</tspan><tspan dy="4.7" dx="1.6" font-size="10.8">μm</tspan><tspan font-size="9.4" dy="-4.9" dx="1.2">2</tspan><tspan dy="4.9" dx="1.6">)</tspan></text>
<line x1="111.9" y1="654.5" x2="170.2" y2="654.5" stroke="#a8a8a8" stroke-width="1"/>
<line x1="182.4" y1="654.5" x2="241.0" y2="654.5" stroke="#a8a8a8" stroke-width="1"/>
<line x1="254.7" y1="654.5" x2="312.9" y2="654.5" stroke="#a8a8a8" stroke-width="1"/>
<line x1="109.4" y1="513.5" x2="167.7" y2="513.5" stroke="#a0a0a0" stroke-width="1"/>
<line x1="179.1" y1="513.5" x2="238.8" y2="513.5" stroke="#a0a0a0" stroke-width="1"/>
<line x1="252.0" y1="513.5" x2="311.9" y2="513.5" stroke="#a0a0a0" stroke-width="1"/>
<path d="M126.50,502.85L126.50,508.55M124.03,504.27L128.97,507.12M124.03,507.12L128.97,504.27" stroke="#111" stroke-width="1.35" fill="none"/>
<circle cx="126.5" cy="505.7" r="1.35" fill="#111" stroke="none" stroke-width="0"/>
<path d="M133.50,502.85L133.50,508.55M131.03,504.27L135.97,507.12M131.03,507.12L135.97,504.27" stroke="#111" stroke-width="1.35" fill="none"/>
<circle cx="133.5" cy="505.7" r="1.35" fill="#111" stroke="none" stroke-width="0"/>
<path d="M140.50,502.85L140.50,508.55M138.03,504.27L142.97,507.12M138.03,507.12L142.97,504.27" stroke="#111" stroke-width="1.35" fill="none"/>
<circle cx="140.5" cy="505.7" r="1.35" fill="#111" stroke="none" stroke-width="0"/>
<path d="M147.50,502.85L147.50,508.55M145.03,504.27L149.97,507.12M145.03,507.12L149.97,504.27" stroke="#111" stroke-width="1.35" fill="none"/>
<circle cx="147.5" cy="505.7" r="1.35" fill="#111" stroke="none" stroke-width="0"/>
<path d="M197.10,502.85L197.10,508.55M194.63,504.27L199.57,507.12M194.63,507.12L199.57,504.27" stroke="#111" stroke-width="1.35" fill="none"/>
<circle cx="197.1" cy="505.7" r="1.35" fill="#111" stroke="none" stroke-width="0"/>
<path d="M204.10,502.85L204.10,508.55M201.63,504.27L206.57,507.12M201.63,507.12L206.57,504.27" stroke="#111" stroke-width="1.35" fill="none"/>
<circle cx="204.1" cy="505.7" r="1.35" fill="#111" stroke="none" stroke-width="0"/>
<path d="M211.10,502.85L211.10,508.55M208.63,504.27L213.57,507.12M208.63,507.12L213.57,504.27" stroke="#111" stroke-width="1.35" fill="none"/>
<circle cx="211.1" cy="505.7" r="1.35" fill="#111" stroke="none" stroke-width="0"/>
<path d="M218.10,502.85L218.10,508.55M215.63,504.27L220.57,507.12M215.63,507.12L220.57,504.27" stroke="#111" stroke-width="1.35" fill="none"/>
<circle cx="218.1" cy="505.7" r="1.35" fill="#111" stroke="none" stroke-width="0"/>
<path d="M270.50,502.85L270.50,508.55M268.03,504.27L272.97,507.12M268.03,507.12L272.97,504.27" stroke="#111" stroke-width="1.35" fill="none"/>
<circle cx="270.5" cy="505.7" r="1.35" fill="#111" stroke="none" stroke-width="0"/>
<path d="M277.50,502.85L277.50,508.55M275.03,504.27L279.97,507.12M275.03,507.12L279.97,504.27" stroke="#111" stroke-width="1.35" fill="none"/>
<circle cx="277.5" cy="505.7" r="1.35" fill="#111" stroke="none" stroke-width="0"/>
<path d="M284.50,502.85L284.50,508.55M282.03,504.27L286.97,507.12M282.03,507.12L286.97,504.27" stroke="#111" stroke-width="1.35" fill="none"/>
<circle cx="284.5" cy="505.7" r="1.35" fill="#111" stroke="none" stroke-width="0"/>
<path d="M291.50,502.85L291.50,508.55M289.03,504.27L293.97,507.12M289.03,507.12L293.97,504.27" stroke="#111" stroke-width="1.35" fill="none"/>
<circle cx="291.5" cy="505.7" r="1.35" fill="#111" stroke="none" stroke-width="0"/>
<text x="142.2" y="664.5" font-size="9.3" text-anchor="middle" fill="#222" font-style="italic" >Crz-Gal4/+</text>
<text x="211.8" y="664.8" font-size="9.3" text-anchor="middle" fill="#222" font-style="italic" >tsh-Gal80/+;</text>
<text x="211.8" y="675.5" font-size="9.3" text-anchor="middle" fill="#222" font-style="italic" >UAS-Kir2.1/+</text>
<text x="283.2" y="665.0" font-size="9.3" text-anchor="middle" fill="#222" font-style="italic" >Crz&gt;tsh-Gal80;</text>
<text x="283.2" y="675.7" font-size="9.3" text-anchor="middle" fill="#222" font-style="italic" >UAS-Kir2.1</text>
<rect x="98.7" y="689.4" width="21.4" height="8.0" fill="#d4d4d4"/>
<text x="127.3" y="697.9" font-size="10.6" text-anchor="start" fill="#222" >Naive</text>
<rect x="167.1" y="689.4" width="21.4" height="8.0" fill="#c0d5f0"/>
<text x="196.9" y="697.9" font-size="10.6" text-anchor="start" fill="#222" >Primed</text>
<circle cx="123" cy="550.7" r="1.62" fill="#5a5a5a" stroke="none" stroke-width="0"/>
<circle cx="123" cy="557.7" r="1.62" fill="#5a5a5a" stroke="none" stroke-width="0"/>
<circle cx="113" cy="571.7" r="1.62" fill="#5a5a5a" stroke="none" stroke-width="0"/>
<circle cx="117.2" cy="572.6" r="1.62" fill="#5a5a5a" stroke="none" stroke-width="0"/>
<circle cx="120.9" cy="572.1" r="1.62" fill="#5a5a5a" stroke="none" stroke-width="0"/>
<circle cx="125.1" cy="571.7" r="1.62" fill="#5a5a5a" stroke="none" stroke-width="0"/>
<circle cx="129.2" cy="571.2" r="1.62" fill="#5a5a5a" stroke="none" stroke-width="0"/>
<circle cx="132.7" cy="571.6" r="1.62" fill="#5a5a5a" stroke="none" stroke-width="0"/>
<circle cx="120.9" cy="577.3" r="1.62" fill="#5a5a5a" stroke="none" stroke-width="0"/>
<circle cx="125.1" cy="578.4" r="1.62" fill="#5a5a5a" stroke="none" stroke-width="0"/>
<circle cx="157.2" cy="533.9" r="1.62" fill="#107a99" stroke="none" stroke-width="0"/>
<circle cx="159.8" cy="536.2" r="1.62" fill="#107a99" stroke="none" stroke-width="0"/>
<circle cx="157.2" cy="539.1" r="1.62" fill="#107a99" stroke="none" stroke-width="0"/>
<circle cx="158.4" cy="543.2" r="1.62" fill="#107a99" stroke="none" stroke-width="0"/>
<circle cx="158.4" cy="546.7" r="1.62" fill="#107a99" stroke="none" stroke-width="0"/>
<circle cx="157.2" cy="558.4" r="1.62" fill="#107a99" stroke="none" stroke-width="0"/>
<circle cx="159.8" cy="560.3" r="1.62" fill="#107a99" stroke="none" stroke-width="0"/>
<circle cx="194" cy="560.7" r="1.62" fill="#5a5a5a" stroke="none" stroke-width="0"/>
<circle cx="185.2" cy="570" r="1.62" fill="#5a5a5a" stroke="none" stroke-width="0"/>
<circle cx="191" cy="570" r="1.62" fill="#5a5a5a" stroke="none" stroke-width="0"/>
<circle cx="197.1" cy="568.6" r="1.62" fill="#5a5a5a" stroke="none" stroke-width="0"/>
<circle cx="203.1" cy="569.1" r="1.62" fill="#5a5a5a" stroke="none" stroke-width="0"/>
<circle cx="191" cy="577.3" r="1.62" fill="#5a5a5a" stroke="none" stroke-width="0"/>
<circle cx="197.1" cy="578.6" r="1.62" fill="#5a5a5a" stroke="none" stroke-width="0"/>
<circle cx="194" cy="583" r="1.62" fill="#5a5a5a" stroke="none" stroke-width="0"/>
<circle cx="194" cy="588.4" r="1.62" fill="#5a5a5a" stroke="none" stroke-width="0"/>
<circle cx="229.5" cy="532.7" r="1.62" fill="#107a99" stroke="none" stroke-width="0"/>
<circle cx="226.9" cy="543.2" r="1.62" fill="#107a99" stroke="none" stroke-width="0"/>
<circle cx="229.5" cy="540.9" r="1.62" fill="#107a99" stroke="none" stroke-width="0"/>
<circle cx="232.2" cy="540.5" r="1.62" fill="#107a99" stroke="none" stroke-width="0"/>
<circle cx="229.5" cy="550.7" r="1.62" fill="#107a99" stroke="none" stroke-width="0"/>
<circle cx="229.5" cy="555.4" r="1.62" fill="#107a99" stroke="none" stroke-width="0"/>
<circle cx="229.5" cy="565.1" r="1.62" fill="#107a99" stroke="none" stroke-width="0"/>
<circle cx="229.5" cy="572.6" r="1.62" fill="#107a99" stroke="none" stroke-width="0"/>
<circle cx="263.7" cy="557.7" r="1.62" fill="#5a5a5a" stroke="none" stroke-width="0"/>
<circle cx="266.3" cy="559.8" r="1.62" fill="#5a5a5a" stroke="none" stroke-width="0"/>
<circle cx="263.7" cy="562.5" r="1.62" fill="#5a5a5a" stroke="none" stroke-width="0"/>
<circle cx="266.3" cy="562.5" r="1.62" fill="#5a5a5a" stroke="none" stroke-width="0"/>
<circle cx="265.1" cy="572.1" r="1.62" fill="#5a5a5a" stroke="none" stroke-width="0"/>
<circle cx="263.7" cy="580.8" r="1.62" fill="#5a5a5a" stroke="none" stroke-width="0"/>
<circle cx="266.3" cy="582.1" r="1.62" fill="#5a5a5a" stroke="none" stroke-width="0"/>
<circle cx="265.1" cy="586.6" r="1.62" fill="#5a5a5a" stroke="none" stroke-width="0"/>
<circle cx="263.7" cy="591" r="1.62" fill="#5a5a5a" stroke="none" stroke-width="0"/>
<circle cx="266.3" cy="592.2" r="1.62" fill="#5a5a5a" stroke="none" stroke-width="0"/>
<circle cx="298.7" cy="524.3" r="1.62" fill="#107a99" stroke="none" stroke-width="0"/>
<circle cx="301.7" cy="524.3" r="1.62" fill="#107a99" stroke="none" stroke-width="0"/>
<circle cx="300.5" cy="530.9" r="1.62" fill="#107a99" stroke="none" stroke-width="0"/>
<circle cx="300.5" cy="547.6" r="1.62" fill="#107a99" stroke="none" stroke-width="0"/>
<circle cx="300.5" cy="560.3" r="1.62" fill="#107a99" stroke="none" stroke-width="0"/>
<circle cx="299.3" cy="563.7" r="1.62" fill="#107a99" stroke="none" stroke-width="0"/>
<circle cx="301.7" cy="564.2" r="1.62" fill="#107a99" stroke="none" stroke-width="0"/>
<circle cx="300.5" cy="568.2" r="1.62" fill="#107a99" stroke="none" stroke-width="0"/>
<circle cx="300.5" cy="572.6" r="1.62" fill="#107a99" stroke="none" stroke-width="0"/>
<circle cx="300.5" cy="580.3" r="1.62" fill="#107a99" stroke="none" stroke-width="0"/>
<line x1="117.3" y1="567.0" x2="129.3" y2="567.0" stroke="#666" stroke-width="0.85"/>
<line x1="117.3" y1="573.0" x2="129.3" y2="573.0" stroke="#666" stroke-width="0.85"/>
<line x1="123.3" y1="567.0" x2="123.3" y2="573.0" stroke="#666" stroke-width="0.85"/>
<line x1="152.7" y1="540.5" x2="164.7" y2="540.5" stroke="#7cb8cc" stroke-width="0.85"/>
<line x1="152.7" y1="547.5" x2="164.7" y2="547.5" stroke="#7cb8cc" stroke-width="0.85"/>
<line x1="158.7" y1="540.5" x2="158.7" y2="547.5" stroke="#7cb8cc" stroke-width="0.85"/>
<line x1="188.0" y1="571.5" x2="200.0" y2="571.5" stroke="#666" stroke-width="0.85"/>
<line x1="188.0" y1="576.5" x2="200.0" y2="576.5" stroke="#666" stroke-width="0.85"/>
<line x1="194.0" y1="571.5" x2="194.0" y2="576.5" stroke="#666" stroke-width="0.85"/>
<line x1="223.5" y1="545.3" x2="235.5" y2="545.3" stroke="#7cb8cc" stroke-width="0.85"/>
<line x1="223.5" y1="554.9" x2="235.5" y2="554.9" stroke="#7cb8cc" stroke-width="0.85"/>
<line x1="229.5" y1="545.3" x2="229.5" y2="554.9" stroke="#7cb8cc" stroke-width="0.85"/>
<line x1="259.0" y1="570.7" x2="271.0" y2="570.7" stroke="#666" stroke-width="0.85"/>
<line x1="259.0" y1="579.4" x2="271.0" y2="579.4" stroke="#666" stroke-width="0.85"/>
<line x1="265.0" y1="570.7" x2="265.0" y2="579.4" stroke="#666" stroke-width="0.85"/>
<line x1="294.6" y1="547.2" x2="306.6" y2="547.2" stroke="#7cb8cc" stroke-width="0.85"/>
<line x1="294.6" y1="560.3" x2="306.6" y2="560.3" stroke="#7cb8cc" stroke-width="0.85"/>
<line x1="300.6" y1="547.2" x2="300.6" y2="560.3" stroke="#7cb8cc" stroke-width="0.85"/>
<rect x="510.1" y="543.1" width="23.2" height="105.39999999999998" fill="#d4d4d4"/>
<rect x="544.5" y="544.8" width="23.2" height="103.70000000000005" fill="#d4d4d4"/>
<rect x="579.1" y="553.1" width="23.2" height="95.39999999999998" fill="#c9ddf6"/>
<rect x="613.5" y="554.1" width="23.2" height="94.39999999999998" fill="#d4d4d4"/>
<rect x="648.0" y="610.0" width="23.2" height="38.5" fill="#c9ddf6"/>
<line x1="498.5" y1="511.34000000000003" x2="498.5" y2="648.5" stroke="#666" stroke-width="1"/>
<line x1="491.5" y1="648.5" x2="498.5" y2="648.5" stroke="#666" stroke-width="1"/>
<text x="488.2" y="652.8" font-size="10.6" text-anchor="end" fill="#222" >0</text>
<line x1="491.5" y1="602.78" x2="498.5" y2="602.78" stroke="#666" stroke-width="1"/>
<text x="488.2" y="607.0799999999999" font-size="10.6" text-anchor="end" fill="#222" >2</text>
<line x1="491.5" y1="557.06" x2="498.5" y2="557.06" stroke="#666" stroke-width="1"/>
<text x="488.2" y="561.3599999999999" font-size="10.6" text-anchor="end" fill="#222" >4</text>
<line x1="491.5" y1="511.34000000000003" x2="498.5" y2="511.34000000000003" stroke="#666" stroke-width="1"/>
<text x="488.2" y="515.64" font-size="10.6" text-anchor="end" fill="#222" >6</text>
<line x1="491.5" y1="649.0" x2="683.3" y2="649.0" stroke="#a8a8a8" stroke-width="1.1"/>
<text transform="translate(475.1,580.5) rotate(-90)" x="0" y="0" font-size="11.8" text-anchor="middle" fill="#222">Projected area <tspan dx="0.3">(</tspan><tspan dx="0.6" font-size="10.1">×</tspan><tspan dx="0.8" font-size="10.1">10</tspan><tspan font-size="8.2" dy="-4.7" dx="0.9">4</tspan><tspan dy="4.7" dx="1.6" font-size="10.8">μm</tspan><tspan font-size="9.4" dy="-4.9" dx="1.2">2</tspan><tspan dy="4.9" dx="1.6">)</tspan></text>
<line x1="544.8" y1="508.5" x2="600.9" y2="508.5" stroke="#a0a0a0" stroke-width="1"/>
<line x1="614.1" y1="508.5" x2="670.1" y2="508.5" stroke="#a0a0a0" stroke-width="1"/>
<text x="0" y="0" font-size="9.4" text-anchor="middle" fill="#333" transform="translate(573.8,503.7) scale(1,1.18)">ns</text>
<path d="M631.25,498.85L631.25,504.55M628.78,500.27L633.72,503.12M628.78,503.12L633.72,500.27" stroke="#111" stroke-width="1.35" fill="none"/>
<circle cx="631.25" cy="501.7" r="1.35" fill="#111" stroke="none" stroke-width="0"/>
<path d="M638.95,498.85L638.95,504.55M636.48,500.27L641.42,503.12M636.48,503.12L641.42,500.27" stroke="#111" stroke-width="1.35" fill="none"/>
<circle cx="638.95" cy="501.7" r="1.35" fill="#111" stroke="none" stroke-width="0"/>
<path d="M646.65,498.85L646.65,504.55M644.18,500.27L649.12,503.12M644.18,503.12L649.12,500.27" stroke="#111" stroke-width="1.35" fill="none"/>
<circle cx="646.65" cy="501.7" r="1.35" fill="#111" stroke="none" stroke-width="0"/>
<path d="M654.35,498.85L654.35,504.55M651.88,500.27L656.82,503.12M651.88,503.12L656.82,500.27" stroke="#111" stroke-width="1.35" fill="none"/>
<circle cx="654.35" cy="501.7" r="1.35" fill="#111" stroke="none" stroke-width="0"/>
<circle cx="515.9" cy="530.3" r="1.62" fill="#5a5a5a" stroke="none" stroke-width="0"/>
<circle cx="521.5" cy="528.2" r="1.62" fill="#5a5a5a" stroke="none" stroke-width="0"/>
<circle cx="527" cy="529.4" r="1.62" fill="#5a5a5a" stroke="none" stroke-width="0"/>
<circle cx="518.5" cy="532.9" r="1.62" fill="#5a5a5a" stroke="none" stroke-width="0"/>
<circle cx="524.7" cy="533.8" r="1.62" fill="#5a5a5a" stroke="none" stroke-width="0"/>
<circle cx="524.7" cy="536.4" r="1.62" fill="#5a5a5a" stroke="none" stroke-width="0"/>
<circle cx="518.5" cy="538.7" r="1.62" fill="#5a5a5a" stroke="none" stroke-width="0"/>
<circle cx="523.8" cy="539.1" r="1.62" fill="#5a5a5a" stroke="none" stroke-width="0"/>
<circle cx="515.9" cy="541.2" r="1.62" fill="#5a5a5a" stroke="none" stroke-width="0"/>
<circle cx="521.5" cy="541.3" r="1.62" fill="#5a5a5a" stroke="none" stroke-width="0"/>
<circle cx="527.3" cy="541.2" r="1.62" fill="#5a5a5a" stroke="none" stroke-width="0"/>
<circle cx="512.8" cy="543.8" r="1.62" fill="#5a5a5a" stroke="none" stroke-width="0"/>
<circle cx="518.5" cy="544.7" r="1.62" fill="#5a5a5a" stroke="none" stroke-width="0"/>
<circle cx="524.3" cy="545.7" r="1.62" fill="#5a5a5a" stroke="none" stroke-width="0"/>
<circle cx="530.5" cy="545.7" r="1.62" fill="#5a5a5a" stroke="none" stroke-width="0"/>
<circle cx="518.5" cy="548.7" r="1.62" fill="#5a5a5a" stroke="none" stroke-width="0"/>
<circle cx="524.3" cy="551" r="1.62" fill="#5a5a5a" stroke="none" stroke-width="0"/>
<circle cx="515.9" cy="554.8" r="1.62" fill="#5a5a5a" stroke="none" stroke-width="0"/>
<circle cx="521.5" cy="555.3" r="1.62" fill="#5a5a5a" stroke="none" stroke-width="0"/>
<circle cx="527.3" cy="557.1" r="1.62" fill="#5a5a5a" stroke="none" stroke-width="0"/>
<circle cx="521.5" cy="560.6" r="1.62" fill="#5a5a5a" stroke="none" stroke-width="0"/>
<circle cx="555.9" cy="529.4" r="1.62" fill="#5a5a5a" stroke="none" stroke-width="0"/>
<circle cx="555" cy="537.3" r="1.62" fill="#5a5a5a" stroke="none" stroke-width="0"/>
<circle cx="557.1" cy="540.3" r="1.62" fill="#5a5a5a" stroke="none" stroke-width="0"/>
<circle cx="555" cy="544.3" r="1.62" fill="#5a5a5a" stroke="none" stroke-width="0"/>
<circle cx="555.9" cy="547.8" r="1.62" fill="#5a5a5a" stroke="none" stroke-width="0"/>
<circle cx="555.9" cy="554.5" r="1.62" fill="#5a5a5a" stroke="none" stroke-width="0"/>
<circle cx="555.9" cy="562.2" r="1.62" fill="#5a5a5a" stroke="none" stroke-width="0"/>
<circle cx="590.4" cy="544.5" r="1.62" fill="#107a99" stroke="none" stroke-width="0"/>
<circle cx="589.2" cy="548.9" r="1.62" fill="#107a99" stroke="none" stroke-width="0"/>
<circle cx="592.2" cy="550.1" r="1.62" fill="#107a99" stroke="none" stroke-width="0"/>
<circle cx="587.8" cy="552.5" r="1.62" fill="#107a99" stroke="none" stroke-width="0"/>
<circle cx="590.4" cy="553.5" r="1.62" fill="#107a99" stroke="none" stroke-width="0"/>
<circle cx="593" cy="552.5" r="1.62" fill="#107a99" stroke="none" stroke-width="0"/>
<circle cx="589" cy="555.5" r="1.62" fill="#107a99" stroke="none" stroke-width="0"/>
<circle cx="591.6" cy="556.5" r="1.62" fill="#107a99" stroke="none" stroke-width="0"/>
<circle cx="589.5" cy="558.5" r="1.62" fill="#107a99" stroke="none" stroke-width="0"/>
<circle cx="591.3" cy="560.6" r="1.62" fill="#107a99" stroke="none" stroke-width="0"/>
<circle cx="625.1" cy="539.6" r="1.62" fill="#5a5a5a" stroke="none" stroke-width="0"/>
<circle cx="625.1" cy="543.4" r="1.62" fill="#5a5a5a" stroke="none" stroke-width="0"/>
<circle cx="625.1" cy="546.6" r="1.62" fill="#5a5a5a" stroke="none" stroke-width="0"/>
<circle cx="622.8" cy="551.8" r="1.62" fill="#5a5a5a" stroke="none" stroke-width="0"/>
<circle cx="625.4" cy="551.8" r="1.62" fill="#5a5a5a" stroke="none" stroke-width="0"/>
<circle cx="627.7" cy="551.8" r="1.62" fill="#5a5a5a" stroke="none" stroke-width="0"/>
<circle cx="625.1" cy="555" r="1.62" fill="#5a5a5a" stroke="none" stroke-width="0"/>
<circle cx="623.7" cy="563.2" r="1.62" fill="#5a5a5a" stroke="none" stroke-width="0"/>
<circle cx="626.3" cy="564.1" r="1.62" fill="#5a5a5a" stroke="none" stroke-width="0"/>
<circle cx="625.1" cy="572.3" r="1.62" fill="#5a5a5a" stroke="none" stroke-width="0"/>
<circle cx="658.4" cy="597.2" r="1.62" fill="#107a99" stroke="none" stroke-width="0"/>
<circle cx="660.5" cy="599.8" r="1.62" fill="#107a99" stroke="none" stroke-width="0"/>
<circle cx="658.4" cy="602.4" r="1.62" fill="#107a99" stroke="none" stroke-width="0"/>
<circle cx="660.5" cy="603.6" r="1.62" fill="#107a99" stroke="none" stroke-width="0"/>
<circle cx="659.6" cy="606.8" r="1.62" fill="#107a99" stroke="none" stroke-width="0"/>
<circle cx="659.6" cy="611.2" r="1.62" fill="#107a99" stroke="none" stroke-width="0"/>
<circle cx="657.9" cy="615.2" r="1.62" fill="#107a99" stroke="none" stroke-width="0"/>
<circle cx="661" cy="615.2" r="1.62" fill="#107a99" stroke="none" stroke-width="0"/>
<circle cx="659.6" cy="619.6" r="1.62" fill="#107a99" stroke="none" stroke-width="0"/>
<circle cx="659.6" cy="624.8" r="1.62" fill="#107a99" stroke="none" stroke-width="0"/>
<line x1="515.7" y1="541.3" x2="527.7" y2="541.3" stroke="#666" stroke-width="0.85"/>
<line x1="515.7" y1="545.5" x2="527.7" y2="545.5" stroke="#666" stroke-width="0.85"/>
<line x1="521.7" y1="541.3" x2="521.7" y2="545.5" stroke="#666" stroke-width="0.85"/>
<line x1="550.5" y1="541.3" x2="561.5" y2="541.3" stroke="#666" stroke-width="0.85"/>
<line x1="550.5" y1="548.2" x2="561.5" y2="548.2" stroke="#666" stroke-width="0.85"/>
<line x1="556.0" y1="541.3" x2="556.0" y2="548.2" stroke="#666" stroke-width="0.85"/>
<line x1="585.2" y1="550.8" x2="596.2" y2="550.8" stroke="#7cb8cc" stroke-width="0.85"/>
<line x1="585.2" y1="555.4" x2="596.2" y2="555.4" stroke="#7cb8cc" stroke-width="0.85"/>
<line x1="590.7" y1="550.8" x2="590.7" y2="555.4" stroke="#7cb8cc" stroke-width="0.85"/>
<line x1="619.7" y1="551.3" x2="630.7" y2="551.3" stroke="#666" stroke-width="0.85"/>
<line x1="619.7" y1="557.1" x2="630.7" y2="557.1" stroke="#666" stroke-width="0.85"/>
<line x1="625.2" y1="551.3" x2="625.2" y2="557.1" stroke="#666" stroke-width="0.85"/>
<line x1="653.8" y1="606.8" x2="665.2" y2="606.8" stroke="#7cb8cc" stroke-width="0.85"/>
<line x1="653.8" y1="612.4" x2="665.2" y2="612.4" stroke="#7cb8cc" stroke-width="0.85"/>
<line x1="659.5" y1="606.8" x2="659.5" y2="612.4" stroke="#7cb8cc" stroke-width="0.85"/>
<text x="389.7" y="666.9" font-size="9.7" text-anchor="start" fill="#222" font-style="italic" >Crz-Gal4</text>
<text x="389.7" y="681.0" font-size="9.7" text-anchor="start" fill="#222" font-style="italic" >UAS-CCKLR-17D1-RNAi</text>
<text x="389.7" y="694.6" font-size="9.7" text-anchor="start" fill="#222" font-style="italic" >UAS-CCKLR-17D3-RNAi</text>
<circle cx="522.4" cy="666.0" r="3.1" fill="#cdcdcd" stroke="none" stroke-width="0"/>
<circle cx="556.7" cy="666.0" r="2.8" fill="#fff" stroke="#a6a6a6" stroke-width="0.8"/>
<circle cx="590.7" cy="666.0" r="3.1" fill="#c4dbf6" stroke="none" stroke-width="0"/>
<circle cx="626.0" cy="666.0" r="2.8" fill="#fff" stroke="#a6a6a6" stroke-width="0.8"/>
<circle cx="660.6" cy="666.0" r="3.1" fill="#c4dbf6" stroke="none" stroke-width="0"/>
<circle cx="522.4" cy="680.0" r="2.8" fill="#fff" stroke="#a6a6a6" stroke-width="0.8"/>
<circle cx="556.7" cy="680.0" r="3.1" fill="#cdcdcd" stroke="none" stroke-width="0"/>
<circle cx="590.7" cy="680.0" r="3.1" fill="#c4dbf6" stroke="none" stroke-width="0"/>
<circle cx="626.0" cy="680.0" r="2.8" fill="#fff" stroke="#a6a6a6" stroke-width="0.8"/>
<circle cx="660.6" cy="680.0" r="2.8" fill="#fff" stroke="#b4cff2" stroke-width="0.85"/>
<circle cx="522.4" cy="693.9" r="2.8" fill="#fff" stroke="#a6a6a6" stroke-width="0.8"/>
<circle cx="556.7" cy="693.9" r="2.8" fill="#fff" stroke="#a6a6a6" stroke-width="0.8"/>
<circle cx="590.7" cy="693.9" r="2.8" fill="#fff" stroke="#b4cff2" stroke-width="0.85"/>
<circle cx="626.0" cy="693.9" r="3.1" fill="#cdcdcd" stroke="none" stroke-width="0"/>
<circle cx="660.6" cy="693.9" r="3.1" fill="#c4dbf6" stroke="none" stroke-width="0"/>
<rect x="28.5" y="32.5" width="160.7" height="56.7" fill="#fff" stroke="#4f86cc" stroke-width="1.1"/>
<text x="55.9" y="47.5" font-size="8.6" text-anchor="start" fill="#2a2a2a" >Male</text>
<text x="148.8" y="42.9" font-size="8.3" text-anchor="middle" fill="#d0202e" >Genitalia-sealed</text>
<text x="147.7" y="52.9" font-size="8.3" text-anchor="middle" fill="#d0202e" >optimal female</text>
<line x1="112.5" y1="89.2" x2="112.5" y2="137.0" stroke="#4f86cc" stroke-width="1.1"/>
<path d="M106.6,131.2 L112.5,137.2 L118.6,131.2" fill="none" stroke="#4f86cc" stroke-width="1.1"/>
<rect x="112.3" y="102.0" width="85.7" height="16.4" fill="#2a5caa"/>
<text x="118.5" y="114.0" font-size="11" text-anchor="start" fill="#fff" >Priming 10 min</text>
<rect x="72.5" y="138.2" width="81" height="16" fill="#fff" stroke="#4f86cc" stroke-width="1.1"/>
<text x="81.9" y="150.6" font-size="11" text-anchor="start" fill="#3865b3" >Test EB size</text>
<path d="M39.5,70.5 C40,66 50,61.5 60,60 C66,59.2 70.5,59.8 71.5,61.5 C71,65 64,68.5 55,71 C48,73 40,73.5 39.5,70.5 Z" fill="#ddecf3" stroke="#8d9ba3" stroke-width="0.6"/>
<path d="M41,69 C50,66 60,63.5 70.5,62 M42,71 C52,68.5 60,66.5 69,64" stroke="#a9b9c2" stroke-width="0.4" fill="none"/>
<path d="M53,72.5 C56,76 64,75.5 71.5,73.2" fill="none" stroke="#333" stroke-width="0.7"/>
<ellipse cx="55.6" cy="74" rx="3.4" ry="2.5" fill="#111"/>
<path d="M71.5,73.2 L63,74.2 L61,78 L57,82 L50.2,84.2 M74.2,72.5 L74.5,77.5 L77.5,81.5 L82.5,83.3 M86.3,72.8 L89.5,78 L97.5,80.3 M87.3,74.3 L90.5,81.5 L97,83.3" stroke="#2a2a2a" stroke-width="1.6" fill="none" stroke-linecap="round" stroke-linejoin="round"/>
<path d="M71.5,73.2 L63,74.2 L61,78 L57,82 L50.2,84.2 M74.2,72.5 L74.5,77.5 L77.5,81.5 L82.5,83.3 M86.3,72.8 L89.5,78 L97.5,80.3 M87.3,74.3 L90.5,81.5 L97,83.3" stroke="#fff" stroke-width="0.45" fill="none" stroke-linecap="round" stroke-linejoin="round"/>
<path d="M72,69.5 C73,72.5 76,74 79,73 M79.5,69.5 C81,72 83,73.5 86,73" fill="#fff" stroke="#444" stroke-width="0.6"/>
<path d="M68.8,63 C69.5,59.5 74,58 78,58.2 C82,58.4 84,61 83.8,64.5 C83.5,68 80,69.8 76,69.8 C72,69.8 69,67.5 68.8,63 Z" fill="#fff" stroke="#333" stroke-width="0.7"/>
<path d="M73,62 C75,61.5 77,62.5 79,62 M75,66 L78,68" stroke="#999" stroke-width="0.4" fill="none"/>
<ellipse cx="88.2" cy="65.4" rx="4.4" ry="6" fill="#fff" stroke="#333" stroke-width="0.8"/>
<ellipse cx="87.7" cy="67.3" rx="2.7" ry="3.1" fill="#fff" stroke="#555" stroke-width="0.6"/>
<ellipse cx="87.7" cy="67.5" rx="1.9" ry="1.7" fill="#6a6a6a"/>
<path d="M92,64.5 L95.5,63.8 M94,62.3 L94.6,66" stroke="#222" stroke-width="1"/>
<path d="M146,59.5 C152,58.2 164,59 172,62 C177,64 179.5,67 178.5,69.5 C176,71.5 168,71 160,69 C153,67.2 147,64.5 146,61.5 Z" fill="#ddecf3" stroke="#8d9ba3" stroke-width="0.6"/>
<path d="M148,62 C157,63 168,65.5 177,68.5 M150,64.5 C159,66 168,68.5 176,70.5" stroke="#a9b9c2" stroke-width="0.4" fill="none"/>
<path d="M148,70 C152,74 159,75.5 166,73.5" fill="none" stroke="#d42a3a" stroke-width="0.8"/>
<path d="M154.5,70.8 L156.5,73.8 M157.8,71 L159.8,74.3 M161,71.2 L163,74.3" stroke="#2a3a7a" stroke-width="1.1"/>
<path d="M128.5,72 L127,77 L117.5,78.5 M130,73 L127.5,81 L119.5,83.5 M138,72 L141.5,77.5 L138.5,82.5 L134.5,83 M144.6,72.4 L147,76.5 L153.8,78.5 L157.9,82.6 L167.1,84.1 M164,72.4 L176.3,73.6" stroke="#d42a3a" stroke-width="1.7" fill="none" stroke-linecap="round" stroke-linejoin="round"/>
<path d="M128.5,72 L127,77 L117.5,78.5 M130,73 L127.5,81 L119.5,83.5 M138,72 L141.5,77.5 L138.5,82.5 L134.5,83 M144.6,72.4 L147,76.5 L153.8,78.5 L157.9,82.6 L167.1,84.1 M164,72.4 L176.3,73.6" stroke="#fff" stroke-width="0.5" fill="none" stroke-linecap="round" stroke-linejoin="round"/>
<path d="M134,68 C134,72 137,74 140,73 C142,72 143,70 142,68 M141,68.5 C142,72 145,74 148,73" fill="#fff" stroke="#d42a3a" stroke-width="0.8"/>
<path d="M147,67 C149,73 156,76.5 166,75.5 C170,75 171,72 169,70" fill="none" stroke="#d42a3a" stroke-width="0.8"/>
<path d="M132.5,63 C133,59.5 137,57.5 142,57.6 C146.5,57.8 149,60 148.7,63 C148.4,66.5 145,68.6 140,68.5 C135,68.4 132.3,66.2 132.5,63 Z" fill="#fff" stroke="#d42a3a" stroke-width="0.8"/>
<path d="M138,61.5 L141,62 M143,60.5 L143.5,63" stroke="#999" stroke-width="0.4" fill="none"/>
<ellipse cx="130" cy="65.6" rx="3.8" ry="6.2" fill="#fff" stroke="#d42a3a" stroke-width="0.9"/>
<ellipse cx="129.7" cy="67.2" rx="2.8" ry="3.6" fill="#d4d4d4" stroke="#888" stroke-width="0.4"/>
<circle cx="129.7" cy="67.3" r="1.9" fill="#555"/>
<path d="M126.5,63.5 L122.5,64.2 M123.6,62 L124.2,66" stroke="#d42a3a" stroke-width="1.3"/>
<rect x="254.7" y="19.7" width="135.4" height="14.3" fill="#fff" stroke="#777" stroke-width="0.9"/>
<rect x="392.3" y="19.5" width="135.7" height="14.3" fill="#fff" stroke="#777" stroke-width="0.9"/>
<text x="323.6" y="30.6" font-size="10.6" text-anchor="middle" fill="#111" >Naive</text>
<text x="460.2" y="30.6" font-size="10.6" text-anchor="middle" fill="#111" >Primed</text>
<defs>
<clipPath id="cn"><rect x="255" y="36" width="135" height="104.6"/></clipPath>
<clipPath id="cp"><rect x="392.3" y="36" width="135.8" height="104.3"/></clipPath>
<radialGradient id="tr1" cx="392" cy="34" r="62" gradientUnits="userSpaceOnUse"><stop offset="0" stop-color="#606060"/><stop offset="0.5" stop-color="#a0a0a0" stop-opacity="0.65"/><stop offset="1" stop-color="#c8c8c8" stop-opacity="0"/></radialGradient>
<linearGradient id="rn" x1="365" y1="0" x2="390" y2="0" gradientUnits="userSpaceOnUse"><stop offset="0" stop-color="#b8b8b8" stop-opacity="0"/><stop offset="1" stop-color="#8a8a8a" stop-opacity="0.45"/></linearGradient>
<radialGradient id="tr2" cx="528" cy="36" r="100" gradientUnits="userSpaceOnUse"><stop offset="0" stop-color="#5c5c5c"/><stop offset="0.45" stop-color="#9a9a9a" stop-opacity="0.85"/><stop offset="1" stop-color="#dcdcdc" stop-opacity="0"/></radialGradient>
<radialGradient id="tl2" cx="392" cy="36" r="32" gradientUnits="userSpaceOnUse"><stop offset="0" stop-color="#9c9c9c" stop-opacity="0.9"/><stop offset="1" stop-color="#dcdcdc" stop-opacity="0"/></radialGradient>
<radialGradient id="br2" cx="528" cy="140" r="55" gradientUnits="userSpaceOnUse"><stop offset="0" stop-color="#a0a0a0" stop-opacity="0.7"/><stop offset="1" stop-color="#dcdcdc" stop-opacity="0"/></radialGradient>
<radialGradient id="bl1" cx="312" cy="80" r="36" gradientUnits="userSpaceOnUse"><stop offset="0" stop-color="#b0b0ff"/><stop offset="0.55" stop-color="#7272ff"/><stop offset="1" stop-color="#3c3cff"/></radialGradient>
<radialGradient id="bl2" cx="456" cy="84" r="42" gradientUnits="userSpaceOnUse"><stop offset="0" stop-color="#b4b4ff"/><stop offset="0.5" stop-color="#6a6aff"/><stop offset="1" stop-color="#3030ff"/></radialGradient>
<radialGradient id="hl1" cx="310" cy="86" r="33" gradientUnits="userSpaceOnUse"><stop offset="0" stop-color="#e8e8ff" stop-opacity="0.85"/><stop offset="0.5" stop-color="#b4b4ff" stop-opacity="0.55"/><stop offset="1" stop-color="#6060ff" stop-opacity="0"/></radialGradient>
<radialGradient id="hl2" cx="452" cy="84" r="36" gradientUnits="userSpaceOnUse"><stop offset="0" stop-color="#e8e8ff" stop-opacity="0.85"/><stop offset="0.55" stop-color="#a8a8ff" stop-opacity="0.5"/><stop offset="1" stop-color="#6060ff" stop-opacity="0"/></radialGradient>
<filter id="b1" filterUnits="userSpaceOnUse" x="0" y="0" width="685" height="698"><feGaussianBlur stdDeviation="1.2"/></filter>
<filter id="b2" filterUnits="userSpaceOnUse" x="0" y="0" width="685" height="698"><feGaussianBlur stdDeviation="2.2"/></filter>
<filter id="b05" filterUnits="userSpaceOnUse" x="0" y="0" width="685" height="698"><feGaussianBlur stdDeviation="0.6"/></filter>
<filter id="txl" x="0" y="0" width="100%" height="100%"><feTurbulence type="fractalNoise" baseFrequency="0.22 0.45" numOctaves="2" seed="7"/><feColorMatrix values="0 0 0 0 0.85  0 0 0 0 0.85  0 0 0 0 1  0 0 0 1.1 -0.45"/><feComposite in2="SourceGraphic" operator="in"/></filter>
<filter id="tx" x="0" y="0" width="100%" height="100%"><feTurbulence type="fractalNoise" baseFrequency="0.45" numOctaves="2" seed="3"/><feColorMatrix values="0 0 0 0 0  0 0 0 0 0  0 0 0 0 0  0 0 0 0.9 -0.35"/><feComposite in2="SourceGraphic" operator="in"/></filter>
</defs>
<g clip-path="url(#cn)">
<rect x="255" y="36" width="135" height="104.6" fill="#c9c9c9"/>
<rect x="255" y="36" width="135" height="104.6" fill="url(#tr1)"/>
<rect x="330" y="36" width="60" height="104.6" fill="url(#rn)"/>
<path d="M320,59 C320,51 316,46.5 310,44 C302,41 292,41 285,43.5 C278,46.5 274,52 271,59 C267,68 263,79 261.5,91 C260.5,101 262,111 267,119 C272,126 280,130 290,132 C296,133 302,133.5 308,133" fill="none" stroke="#8a8a8a" stroke-width="4.8" filter="url(#b05)"/>
<path d="M320,59 C320,51 316,46.5 310,44 C302,41 292,41 285,43.5 C278,46.5 274,52 271,59 C267,68 263,79 261.5,91 C260.5,101 262,111 267,119 C272,126 280,130 290,132 C296,133 302,133.5 308,133" fill="none" stroke="#bcbcbc" stroke-width="2.6" filter="url(#b05)"/>
<path d="M320,59 C320,51 316,46.5 310,44 C302,41 292,41 285,43.5 C278,46.5 274,52 271,59 C267,68 263,79 261.5,91 C260.5,101 262,111 267,119 C272,126 280,130 290,132 C296,133 302,133.5 308,133" fill="none" stroke="#000" stroke-width="4.6" opacity="0.45" filter="url(#tx)"/>
<ellipse cx="305" cy="130" rx="30" ry="6" fill="#a8a8a8" opacity="0.7" filter="url(#b2)"/>
<path d="M283,80 C288,70 300,61 316,60 C332,59 348,64 353,76 C356,84 357,90 361,94 C367,97 371,102 371,110 C371,119 366,125 358,127 C348,129 338,131 322,132 C306,132 292,129 281,123 C274,117 271,107 272,97 C273,89 277,83 283,80 Z" fill="#626262" stroke="#383838" stroke-width="1.2" filter="url(#b1)"/>
<path d="M283,80 C288,70 300,61 316,60 C332,59 348,64 353,76 C356,84 357,90 361,94 C367,97 371,102 371,110 C371,119 366,125 358,127 C348,129 338,131 322,132 C306,132 292,129 281,123 C274,117 271,107 272,97 C273,89 277,83 283,80 Z" fill="#000" opacity="0.35" filter="url(#tx)"/>
<ellipse cx="279" cy="104" rx="6" ry="15" fill="none" stroke="#8a8a8a" stroke-width="1" opacity="0.3" filter="url(#b05)"/>
<ellipse cx="360" cy="114" rx="11" ry="12.5" fill="#8c8c8c" stroke="#444" stroke-width="0.8" filter="url(#b05)"/>
<path d="M288,101 L346,101 C356,102 364,104 366,112 C367,119 362,122 354,123 C340,125 325,126 310,125 C298,124.5 290,123 288,120 Z" fill="#535353" filter="url(#b05)"/>
<path d="M288,101 L346,101 C356,102 364,104 366,112 C367,119 362,122 354,123 C340,125 325,126 310,125 C298,124.5 290,123 288,120 Z" fill="#000" opacity="0.3" filter="url(#tx)"/>
<path d="M287,101 L287,80 C290,68 302,61.5 318,61.5 C334,61.5 345,65 350,73 C353,80 353.5,92 352.5,100" fill="none" stroke="#8a8a8a" stroke-width="5" filter="url(#b1)"/>
<path d="M287,101 L287,80 C290,68 302,61.5 318,61.5 C334,61.5 345,65 350,73 C353,80 353.5,92 352.5,100" fill="none" stroke="#2e2e2e" stroke-width="2.0" filter="url(#b05)"/>
<path d="M289.5,99 L289.5,79 C292,69 303,63.6 318,63.6 C333,63.6 343,67 347.5,74 C350.5,80 351,90 350,97 C345,100.5 334,101 322,101 C308,101 296,101 289.5,99 Z" fill="#3838ff" filter="url(#b05)"/>
<path d="M289.5,99 L289.5,79 C292,69 303,63.6 318,63.6 C333,63.6 343,67 347.5,74 C350.5,80 351,90 350,97 C345,100.5 334,101 322,101 C308,101 296,101 289.5,99 Z" fill="url(#hl1)" filter="url(#b05)"/>
<path d="M289.5,99 L289.5,79 C292,69 303,63.6 318,63.6 C333,63.6 343,67 347.5,74 C350.5,80 351,90 350,97 C345,100.5 334,101 322,101 C308,101 296,101 289.5,99 Z" fill="#fff" opacity="0.45" filter="url(#txl)"/>
<ellipse cx="334" cy="86" rx="6" ry="5" fill="#1c1cd8" opacity="0.55" filter="url(#b2)"/>
<ellipse cx="343" cy="94" rx="5" ry="3" fill="#1c1cd8" opacity="0.5" filter="url(#b2)"/>
<ellipse cx="299" cy="96" rx="8" ry="4" fill="#8a8aa8" opacity="0.7" filter="url(#b2)"/>
<path d="M287,78 L287,121 C296,125 310,126 322,126 C336,126 352,125 360,122.5 C365,121 367,117 366.5,112 C366,106 361,104 350,103.5 L336,103.5" fill="none" stroke="#1a1a1a" stroke-width="2.2" filter="url(#b05)"/>
<path d="M289,101 C300,100.5 310,99 322,99.5 C333,99 342,100.5 350,101" fill="none" stroke="#1a1a1a" stroke-width="2.6" filter="url(#b05)"/>
<path d="M322,99 L322,130" fill="none" stroke="#151515" stroke-width="2" filter="url(#b05)"/>
<circle cx="358.5" cy="97" r="3.4" fill="#a0a0a0" stroke="#303030" stroke-width="1.3" filter="url(#b05)"/>
<line x1="256.7" y1="137.7" x2="268.7" y2="137.7" stroke="#fff" stroke-width="1.3"/>
<text x="356.1" y="137.1" font-size="9.7" text-anchor="start" fill="#2222ff" >PEBme</text>
</g>
<g clip-path="url(#cp)">
<rect x="392.3" y="36" width="135.8" height="104.3" fill="#dedede"/>
<rect x="392.3" y="36" width="135.8" height="104.3" fill="url(#tr2)"/>
<rect x="392.3" y="36" width="135.8" height="104.3" fill="url(#tl2)"/>
<rect x="392.3" y="36" width="135.8" height="104.3" fill="url(#br2)"/>
<path d="M499,94 C508,94 518,95 530,96.5" fill="none" stroke="#7c7c7c" stroke-width="4" filter="url(#b05)"/>
<path d="M499,94 C508,94 518,95 530,96.5" fill="none" stroke="#c0c0c0" stroke-width="2.2" filter="url(#b05)"/>
<path d="M499,94 C508,94 518,95 530,96.5" fill="none" stroke="#000" stroke-width="3.5" opacity="0.3" filter="url(#tx)"/>
<path d="M442,119.5 C434,121 426,123 418,124.5 C408,126 400,129 390,132" fill="none" stroke="#8a8a8a" stroke-width="5.2" filter="url(#b05)"/>
<path d="M442,119.5 C434,121 426,123 418,124.5 C408,126 400,129 390,132" fill="none" stroke="#c6c6c6" stroke-width="3" filter="url(#b05)"/>
<path d="M442,119.5 C434,121 426,123 418,124.5 C408,126 400,129 390,132" fill="none" stroke="#000" stroke-width="4.5" opacity="0.35" filter="url(#tx)"/>
<path d="M432,127 C420,130 405,134 392,139" fill="none" stroke="#a4a4a4" stroke-width="0.9"/>
<path d="M452,132 C445,136 440,139 436,141" fill="none" stroke="#a4a4a4" stroke-width="0.8"/>
<path d="M417,88 C418,81 423,77 429,76 C431,64 442,53 459,52 C476,52 494,60 499,76 C501,84 500,90 502,96 C507,101 509,107 507,113 C504,117 497,119 491,121 C487,127 480,132 471,133 C464,135 456,135 450,132 C443,128 439,122 436,117 C428,115 420,111 417,105 C415,99 415,93 417,88 Z" fill="#2f2f2f" filter="url(#b1)"/>
<path d="M424,94 C440,90 480,90 502,96 C505,104 500,110 490,114 C470,117 445,117 428,110 C422,106 421,100 424,94 Z" fill="#141414" filter="url(#b2)"/>
<ellipse cx="462" cy="106" rx="34" ry="2.2" fill="#707070" opacity="0.3" filter="url(#b1)"/>
<path d="M445,118 C452,126 456,132 460,134 C465,131 472,124 482,118 Z" fill="#1c1c1c" opacity="0.8" filter="url(#b1)"/>
<path d="M417,88 C418,81 423,77 429,76 C431,64 442,53 459,52 C476,52 494,60 499,76 C501,84 500,90 502,96 C507,101 509,107 507,113 C504,117 497,119 491,121 C487,127 480,132 471,133 C464,135 456,135 450,132 C443,128 439,122 436,117 C428,115 420,111 417,105 C415,99 415,93 417,88 Z" fill="#000" opacity="0.4" filter="url(#tx)"/>
<circle cx="418.5" cy="108" r="1.6" fill="#c8c8e0" filter="url(#b05)"/>
<path d="M430,93 C429,80 432,64 444,56.5 C450,53.5 455,52.6 461,52.6 C478,52.6 493,60 498,76 L499.5,93" fill="none" stroke="#2c2c2c" stroke-width="2.0" filter="url(#b05)"/>
<path d="M440,95 C435,93 431.5,89 431.5,82 C431.5,70 440,56 460,54.5 C478,54.5 491,62 495,74 L496.5,90 C490,95 478,95.5 466,95 C455,94.5 447,96 440,95 Z" fill="#2e2eff" filter="url(#b05)"/>
<path d="M440,95 C435,93 431.5,89 431.5,82 C431.5,70 440,56 460,54.5 C478,54.5 491,62 495,74 L496.5,90 C490,95 478,95.5 466,95 C455,94.5 447,96 440,95 Z" fill="url(#hl2)" filter="url(#b05)"/>
<path d="M440,95 C435,93 431.5,89 431.5,82 C431.5,70 440,56 460,54.5 C478,54.5 491,62 495,74 L496.5,90 C490,95 478,95.5 466,95 C455,94.5 447,96 440,95 Z" fill="#fff" opacity="0.45" filter="url(#txl)"/>
<path d="M487,68 C492,72 496,80 496.5,92 L487,94 Z" fill="#1a1a70" opacity="0.6" filter="url(#b1)"/>
<circle cx="454.5" cy="92" r="2.2" fill="#202060" opacity="0.7" filter="url(#b05)"/>
<path d="M459,96 L459,133" stroke="#0c0c0c" stroke-width="1.8" filter="url(#b05)"/>
<path d="M432,96 C446,93 470,93 496,96" stroke="#101010" stroke-width="2.4" fill="none" filter="url(#b1)"/>
<ellipse cx="530" cy="118" rx="4" ry="7.5" fill="#121236"/>
</g>
</svg></body></html>
